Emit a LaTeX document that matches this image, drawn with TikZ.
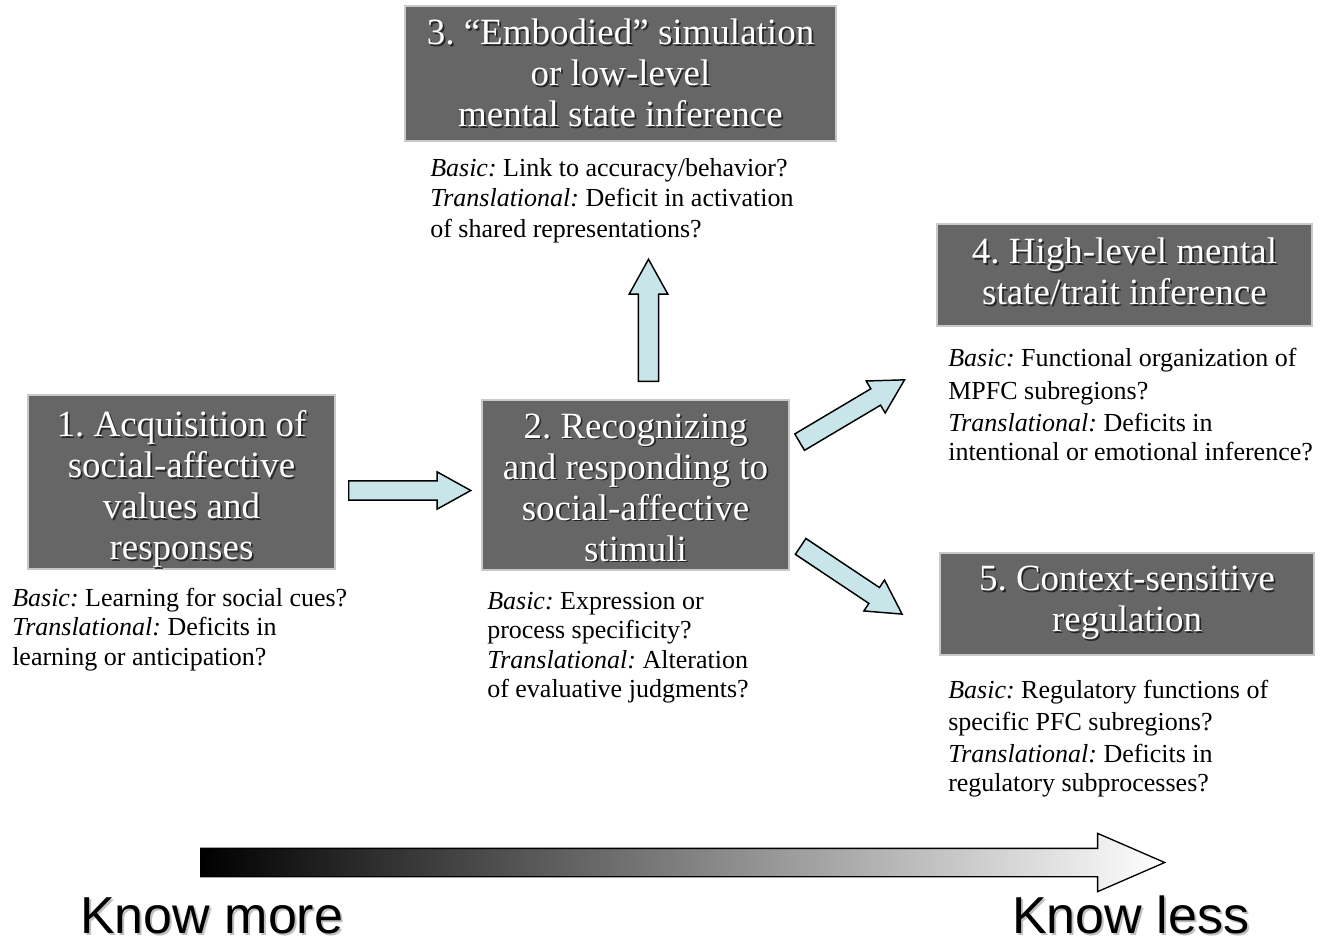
\documentclass[tikz,border=0pt]{standalone}
\usepackage{fontspec}
\setmainfont{Liberation Serif}
\newfontfamily\knowfont{Liberation Sans}
\usetikzlibrary{shapes.arrows}
\def\px{0.75pt}
\definecolor{boxgray}{RGB}{102,102,102}
\definecolor{boxedge}{RGB}{200,200,200}
\definecolor{arrowcyan}{RGB}{200,230,233}
\newcommand\shadowed[1]{\leavevmode\rlap{\kern1.3pt\raisebox{-1.3pt}{\color{black!85}#1}}#1}
\newcommand\softshadow[1]{\leavevmode\rlap{\kern1.5pt\raisebox{-1.5pt}{\color{black!25}#1}}#1}
\tikzset{
    stagebox/.style = {draw=boxedge, line width=1.3pt, fill=boxgray, text=white, align=center, inner sep=0pt, font=\fontsize{27.75}{30.75}\selectfont},
    note/.style = {anchor=north west, align=left, inner sep=0pt, font=\fontsize{19.5}{22}\selectfont},
    flow/.style = {single arrow, anchor=tail, draw=black, line width=1.1pt, fill=arrowcyan, inner sep=6.6pt, single arrow head extend=6.8pt, single arrow tip angle=58, minimum height=122*\px},
    knowtext/.style = {anchor=base west, inner sep=0pt, font=\knowfont\fontsize{39}{44}\selectfont}
}

\begin{document}
\frenchspacing
\begin{tikzpicture}[x=\px, y=-\px]
        % fix the canvas
        \useasboundingbox (0,0) rectangle (1336,946);

        % stage boxes
        \node[stagebox, minimum width=307*\px, minimum height=170*\px] (acq) at (181.5,482) {\rule{0pt}{31pt}\shadowed{1. Acquisition of}\\ \shadowed{social-affective}\\ \shadowed{values and}\\ \shadowed{responses}};
        \node[stagebox, minimum width=307*\px, minimum height=170*\px] (rec) at (635.5,485) {\rule{0pt}{23.5pt}\shadowed{2. Recognizing}\\ \shadowed{and responding to}\\ \shadowed{social-affective}\\ \shadowed{stimuli}};
        \node[stagebox, minimum width=431*\px, minimum height=135*\px] (emb) at (620.5,73.5) {\shadowed{3. ``Embodied'' simulation}\\ \shadowed{or low-level}\\ \shadowed{mental state inference}};
        \node[stagebox, minimum width=375*\px, minimum height=102*\px] (high) at (1124.5,275) {\shadowed{4. High-level mental}\\ \shadowed{state/trait inference}\rule[-5.5pt]{0pt}{1pt}};
        \node[stagebox, minimum width=374*\px, minimum height=102*\px] (ctx) at (1127,604) {\shadowed{5. Context-sensitive}\\ \shadowed{regulation}};

        % open questions below each stage
        \node[note] (acqnote) at (12,588) {\textit{Basic:} Learning for social cues?\\ \textit{Translational:} Deficits in\\ learning or anticipation?};
        \node[note] (recnote) at (487,592) {\textit{Basic:} Expression or\\ process specificity?\\ \textit{Translational:} Alteration\\ of evaluative judgments?};
        \node[note] (embnote) at (430,158) {\textit{Basic:} Link to accuracy/behavior?\\[0.8pt] \textit{Translational:} Deficit in activation\\[0.8pt] of shared representations?};
        \node[note] (highnote) at (948,348) {\textit{Basic:} Functional organization of\\[3pt] MPFC subregions?\\[1.5pt] \textit{Translational:} Deficits in\\ intentional or emotional inference?};
        \node[note] (ctxnote) at (948,680) {\textit{Basic:} Regulatory functions of\\[2pt] specific PFC subregions?\\[2pt] \textit{Translational:} Deficits in\\ regulatory subprocesses?};

        % block arrows between stages
        \node[flow] (acqrec) at (348,490.5) {};
        \node[flow, rotate=90, inner sep=7.1pt] (recemb) at (648.5,382) {};
        \node[flow, rotate=30.7] (rechigh) at (799,442.5) {};
        \node[flow, rotate=-33.7] (recctx) at (800,546) {};

        % knowledge gradient
        \node[single arrow, anchor=tail, draw=black, line width=1pt, left color=black, right color=white, minimum height=964*\px, inner sep=13.5*\px, single arrow head extend=15*\px, single arrow tip angle=47] (scale) at (200,862.5) {};
        \node[knowtext] (more) at (80,933) {\softshadow{Know more}};
        \node[knowtext] (less) at (1012,933) {\softshadow{Know less}};

    \end{tikzpicture}
\end{document}
